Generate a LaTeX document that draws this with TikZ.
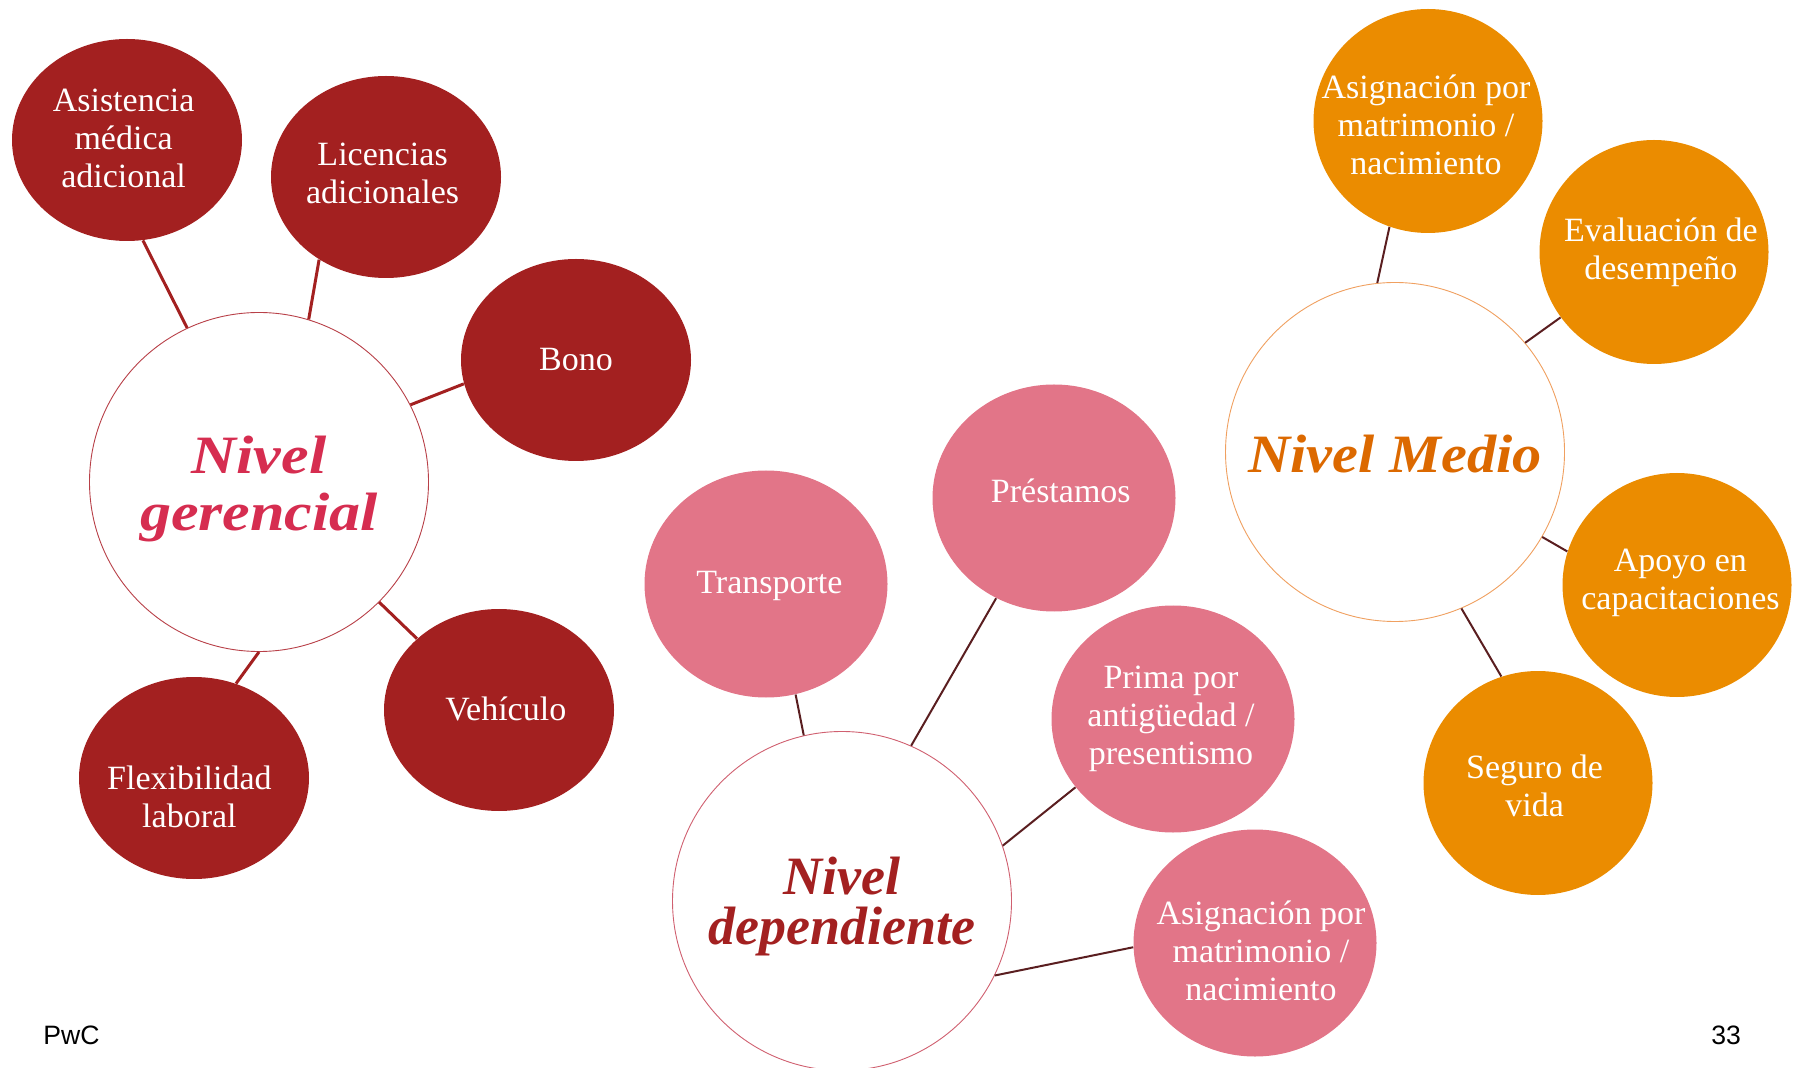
\documentclass[tikz,border=0pt]{standalone}
\usepackage{fontspec}
\setmainfont{Liberation Serif}
\newfontfamily\titlefont[FakeStretch=1.08]{Liberation Serif}
\newfontfamily\titlefontw[FakeStretch=1.15]{Liberation Serif}
\newfontfamily\titlefontn[FakeStretch=1.0]{Liberation Serif}
\newfontfamily\pwcfont{Liberation Sans}
\usetikzlibrary{shapes.geometric}
\definecolor{pwcred}{HTML}{A32020}
\definecolor{pwcpink}{HTML}{E27588}
\definecolor{pwcorange}{HTML}{EB8C00}
\definecolor{gertitle}{HTML}{D62D50}
\definecolor{deptitle}{HTML}{A32020}
\definecolor{medtitle}{HTML}{DC6900}
\definecolor{brownline}{HTML}{5A1E20}
\definecolor{gerring}{HTML}{B84048}
\definecolor{depring}{HTML}{D06070}
\definecolor{medring}{HTML}{F0A060}
\tikzset{
  hub/.style={circle, minimum size=169.5pt, inner sep=0pt, fill=white, line width=0.45pt},
  htitle/.style={align=center, inner sep=0pt},
  redbub/.style={ellipse, inner sep=0pt, fill=pwcred, minimum width=115pt, minimum height=101pt},
  pinkbub/.style={ellipse, inner sep=0pt, fill=pwcpink, minimum width=121.5pt, minimum height=113.5pt},
  orangebub/.style={ellipse, inner sep=0pt, fill=pwcorange, minimum width=114.5pt, minimum height=112pt},
  lbl/.style={text=white, align=center, inner sep=0pt, font=\fontsize{17}{19}\selectfont},
  gline/.style={draw=pwcred, line width=1.5pt},
  bline/.style={draw=brownline, line width=1pt},
  foot/.style={font=\pwcfont\fontsize{13.3}{15}\selectfont, text=black, inner sep=0pt, anchor=base west}
}
\begin{document}
\begin{tikzpicture}[x=0.5pt,y=-0.5pt]
\useasboundingbox (0,0) rectangle (1797,1068);

% ---------- Nivel gerencial ----------
\node[hub, draw=gerring, label={[htitle, font=\titlefontw\bfseries\itshape\fontsize{27}{28.5}\selectfont, text=gertitle, yshift=-3.5pt]center:{Nivel\\gerencial}}] (ger) at (259,482) {};
\node[redbub, label={[lbl, xshift=-1.7pt, yshift=1pt]center:{Asistencia\\médica\\adicional}}] (asis) at (127,140) {};
\node[redbub, label={[lbl, xshift=-1.7pt, yshift=2pt]center:{Licencias\\adicionales}}] (lic) at (386,177) {};
\node[redbub, label={[lbl]center:{Bono}}] (bono) at (576,360) {};
\node[redbub, label={[lbl, xshift=3.4pt, yshift=0.5pt]center:{Vehículo}}] (veh) at (499,710) {};
\node[redbub, label={[lbl, xshift=-2.3pt, yshift=-9.5pt]center:{Flexibilidad\\laboral}}] (flex) at (194,778) {};
\draw[gline] (ger.115) -- (asis.279);
\draw[gline] (ger.73.6) -- (lic.231);
\draw[gline] (ger.27.5) -- (bono.192);
\draw[gline] (ger.-45) -- (veh.139.5);
\draw[gline] (ger.-90) -- (flex.66.7);

% ---------- Nivel dependiente ----------
\node[hub, draw=depring, label={[htitle, font=\titlefontn\bfseries\itshape\fontsize{27}{25}\selectfont, text=deptitle, yshift=-3pt]center:{Nivel\\dependiente}}] (dep) at (842,901) {};
\node[pinkbub, label={[lbl, xshift=1.7pt, yshift=-1pt]center:{Transporte}}] (trans) at (766,584) {};
\node[pinkbub, label={[lbl, xshift=3.4pt, yshift=3.5pt]center:{Préstamos}}] (prest) at (1054,498) {};
\node[pinkbub, label={[lbl, xshift=-1pt]center:{Prima por\\antigüedad /\\presentismo}}] (prima) at (1173,719) {};
\node[pinkbub, label={[lbl, xshift=3pt, yshift=-4pt]center:{Asignación por\\matrimonio /\\nacimiento}}] (asigd) at (1255,943) {};
\draw[bline] (dep.103) -- (trans.285.4);
\draw[bline] (dep.66.4) -- (prest.240.1);
\draw[bline] (dep.19.3) -- (prima.215.6);
\draw[bline] (dep.-26.4) -- (asigd.182.8);

% ---------- Nivel Medio ----------
\node[hub, draw=medring, label={[htitle, font=\titlefont\bfseries\itshape\fontsize{27}{28}\selectfont, text=medtitle, yshift=-1pt]center:{Nivel Medio}}] (med) at (1395,452) {};
\node[orangebub, label={[lbl, xshift=-1pt, yshift=-2pt]center:{Asignación por\\matrimonio /\\nacimiento}}] (asigm) at (1428,121) {};
\node[orangebub, label={[lbl, xshift=3.4pt]center:{Evaluación de\\desempeño}}] (eval) at (1654,252) {};
\node[orangebub, label={[lbl, xshift=1.7pt, yshift=1pt]center:{Apoyo en\\capacitaciones}}] (apoyo) at (1677,585) {};
\node[orangebub, label={[lbl, xshift=-1.7pt, yshift=-1.5pt]center:{Seguro de\\vida}}] (seguro) at (1538,783) {};
\draw[bline] (med.96.3) -- (asigm.250.4);
\draw[bline] (med.40) -- (eval.215);
\draw[bline] (med.-30.3) -- (apoyo.163.1);
\draw[bline] (med.-67.5) -- (seguro.109.4);

% ---------- footer ----------
\node[foot] (pwc) at (43,1044) {PwC};
\node[foot] (pnum) at (1711,1044) {33};
\end{tikzpicture}
\end{document}
